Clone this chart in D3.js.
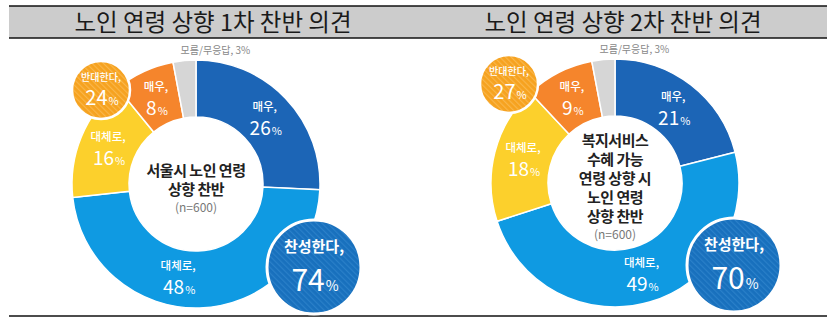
<!DOCTYPE html>
<html><head><meta charset="utf-8">
<script src="https://cdn.jsdelivr.net/npm/d3@7"></script>
<style>
html,body{margin:0;padding:0;background:#fff;}
svg{display:block;font-family:"Noto Sans CJK KR","Noto Sans",sans-serif;}
</style></head>
<body><svg id="c" width="834" height="332"></svg>
<script>
// ---- data ----
const titles = ["노인 연령 상향 1차 찬반 의견", "노인 연령 상향 2차 찬반 의견"];
const categories = ["매우", "대체로", "대체로", "매우", "모름/무응답"];
const groups = ["찬성", "찬성", "반대", "반대", "모름"];
const wave1 = [26, 48, 16, 8, 3];
const wave2 = [21, 49, 18, 9, 3];
const agreeTotals = [74, 70];
const opposeTotals = [24, 27];
const agreeLabel = "찬성한다,";
const opposeLabel = "반대한다,";
const centerTexts = [
  ["서울시 노인 연령", "상향 찬반"],
  ["복지서비스", "수혜 가능", "연령 상향 시", "노인 연령", "상향 찬반"]
];
const sampleLabel = "(n=600)";

// ---- style / layout ----
const colors = ["#1c65b6", "#0f9ae2", "#fcd02c", "#f5852c", "#d6d6d6"];
const centers = [[196, 184], [615, 183]];
const rOuter = 124, rInner = 67;
const oppOffset = [[-95, -94], [-106, -99]];
const agrOffset = [[118, 83], [119, 82]];
const labelAngleShift = [[0, 0.22, 0, 0, 0], [0, 0, 0, 0, 0]];

const svg = d3.select("#c");
const defs = svg.append("defs");
function stripe(id, base, line) {
  const p = defs.append("pattern").attr("id", id).attr("patternUnits", "userSpaceOnUse")
    .attr("width", 4).attr("height", 4).attr("patternTransform", "rotate(-45)");
  p.append("rect").attr("width", 4).attr("height", 4).attr("fill", base);
  p.append("rect").attr("width", 1.2).attr("height", 4).attr("fill", line);
}
stripe("stO", "#f6a21f", "#f9b64a");
stripe("stB", "#1870bd", "#2a80c9");

// header band
svg.append("rect").attr("x", 9).attr("y", 6).attr("width", 818).attr("height", 32).attr("fill", "#cccccc");
svg.append("line").attr("x1", 9).attr("x2", 827).attr("y1", 6).attr("y2", 6).attr("stroke", "#111").attr("stroke-width", 1.5);
svg.append("line").attr("x1", 9).attr("x2", 827).attr("y1", 38).attr("y2", 38).attr("stroke", "#111").attr("stroke-width", 1.5);
svg.append("line").attr("x1", 9).attr("x2", 827).attr("y1", 316).attr("y2", 316).attr("stroke", "#111").attr("stroke-width", 1.5);

const titleX = [213, 623];
titles.forEach((t, i) => {
  svg.append("text").attr("x", titleX[i]).attr("y", 30.5).attr("text-anchor", "middle")
    .attr("font-size", 23.5).attr("fill", "#1a1a1a").attr("font-weight", 400).text(t);
});

const pie = d3.pie().sort(null).value(d => d);
const arc = d3.arc().innerRadius(rInner).outerRadius(rOuter);

function pctText(sel, v, big, small) {
  sel.append("tspan").attr("font-size", big).text(v);
  sel.append("tspan").attr("font-size", small).attr("dx", 1).text("%");
}

[wave1, wave2].forEach((vals, ci) => {
  const [cx, cy] = centers[ci];
  const g = svg.append("g").attr("transform", `translate(${cx},${cy})`);
  const arcs = pie(vals);
  g.selectAll("path").data(arcs).join("path")
    .attr("d", arc).attr("fill", (d, i) => colors[i])
    .attr("stroke", "#fff").attr("stroke-width", 1.5);
  g.append("circle").attr("r", rInner - 0.5).attr("fill", "#fff");

  // slice labels
  arcs.forEach((a, i) => {
    if (i === 4) {
      const x = Math.sin((a.startAngle + a.endAngle) / 2) * rOuter;
      g.append("text").attr("x", x + 31).attr("y", -rOuter - 6).attr("text-anchor", "middle")
        .attr("font-size", 10).attr("fill", "#888").text(categories[i] + ", " + vals[i] + "%");
      return;
    }
    const ang = (a.startAngle + a.endAngle) / 2 + labelAngleShift[ci][i];
    const r = 95;
    const x = Math.sin(ang) * r, y = -Math.cos(ang) * r;
    g.append("text").attr("x", x).attr("y", y - 7).attr("text-anchor", "middle")
      .attr("font-size", 11.5).attr("font-weight", 500).attr("fill", "#fff").text(categories[i] + ",");
    const t = g.append("text").attr("x", x + 1).attr("y", y + 17).attr("text-anchor", "middle")
      .attr("fill", "#fff").attr("font-weight", 400);
    pctText(t, vals[i], 19, 11);
  });

  // center text
  const lines = centerTexts[ci];
  const lh = 19;
  const total = lines.length * lh + 15;
  const y0 = -total / 2 + 18;
  lines.forEach((l, k) => {
    g.append("text").attr("x", 0).attr("y", y0 + k * lh).attr("text-anchor", "middle")
      .attr("font-size", 15).attr("font-weight", 700).attr("fill", "#222").attr("letter-spacing", -0.5).text(l);
  });
  g.append("text").attr("x", 0).attr("y", y0 + lines.length * lh - 2).attr("text-anchor", "middle")
    .attr("font-size", 12).attr("fill", "#777").text(sampleLabel);

  // oppose bubble
  const [ox, oy] = oppOffset[ci];
  const ob = g.append("g").attr("transform", `translate(${ox},${oy})`);
  ob.append("circle").attr("r", 29).attr("fill", "url(#stO)").attr("stroke", "#fff").attr("stroke-width", 2.5);
  ob.append("text").attr("y", -9).attr("text-anchor", "middle").attr("font-size", 10).attr("font-weight", 500).attr("fill", "#fff").text(opposeLabel);
  pctText(ob.append("text").attr("x", 1).attr("y", 15).attr("text-anchor", "middle").attr("fill", "#fff"), opposeTotals[ci], 20, 11);

  // agree bubble
  const [ax, ay] = agrOffset[ci];
  const ab = g.append("g").attr("transform", `translate(${ax},${ay})`);
  ab.append("circle").attr("r", 47).attr("fill", "url(#stB)").attr("stroke", "#fff").attr("stroke-width", 3);
  ab.append("text").attr("y", -15).attr("text-anchor", "middle").attr("font-size", 15).attr("font-weight", 700).attr("fill", "#fff").text(agreeLabel);
  pctText(ab.append("text").attr("x", 1).attr("y", 24).attr("text-anchor", "middle").attr("fill", "#fff"), agreeTotals[ci], 30, 14);
});
</script></body></html>
